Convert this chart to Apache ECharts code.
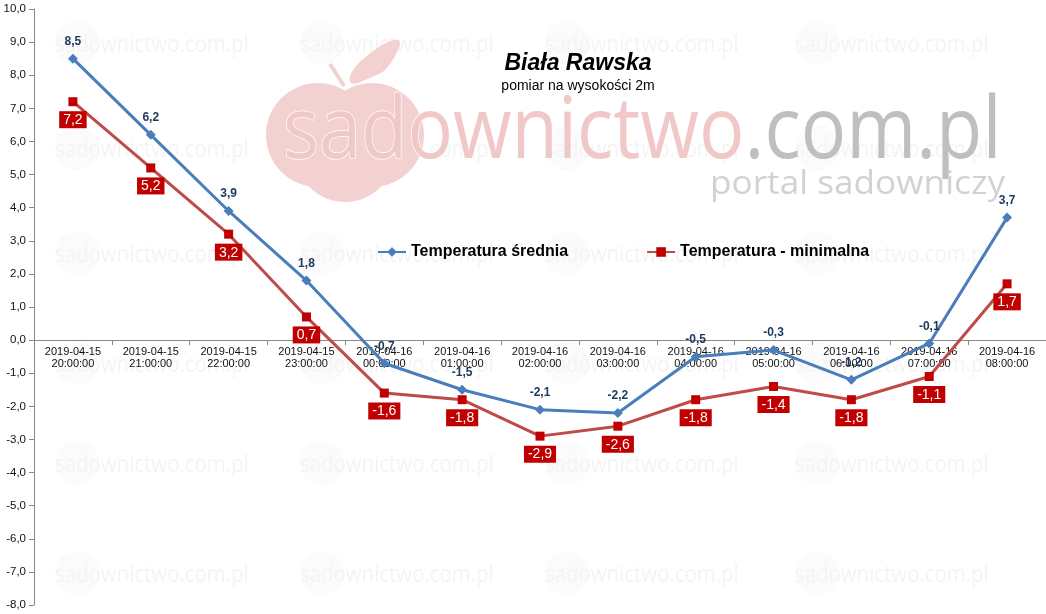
<!DOCTYPE html>
<html><head><meta charset="utf-8">
<script src="https://cdn.jsdelivr.net/npm/echarts@6/dist/echarts.min.js"></script>
<style>html,body{margin:0;padding:0;background:#fff}#c{width:1046px;height:614px}</style>
</head><body><div id="c"></div>
<script>
var categories = ['2019-04-15\n20:00:00','2019-04-15\n21:00:00','2019-04-15\n22:00:00','2019-04-15\n23:00:00','2019-04-16\n00:00:00','2019-04-16\n01:00:00','2019-04-16\n02:00:00','2019-04-16\n03:00:00','2019-04-16\n04:00:00','2019-04-16\n05:00:00','2019-04-16\n06:00:00','2019-04-16\n07:00:00','2019-04-16\n08:00:00'];
var avgTemp = [8.5, 6.2, 3.9, 1.8, -0.7, -1.5, -2.1, -2.2, -0.5, -0.3, -1.2, -0.1, 3.7];
var minTemp = [7.2, 5.2, 3.2, 0.7, -1.6, -1.8, -2.9, -2.6, -1.8, -1.4, -1.8, -1.1, 1.7];
var seriesNames = ['Temperatura średnia', 'Temperatura - minimalna'];
var titleText = 'Biała Rawska';
var subtitleText = 'pomiar na wysokości 2m';
var yMin = -8, yMax = 10;

function fmt(v){ return v.toFixed(1).replace('.', ','); }

var W = 1046, H = 614, gTop = 9, gBottom = 9;
var plotH = H - gTop - gBottom;
var zeroOffset = -plotH * (0 - yMin) / (yMax - yMin);

var graphics = [];
var tileXs = [55, 300, 545, 795];
var tileYs = [45, 150, 255, 365, 465, 575];
tileYs.forEach(function(y){ tileXs.forEach(function(x){
  graphics.push({type:'circle', z:-10, shape:{cx:x+22, cy:y-2, r:22}, style:{fill:'#fbfbfb'}, silent:true});
  graphics.push({type:'text', z:-9, x:x, y:y, scaleX:0.85, style:{text:'sadownictwo.com.pl', font:'24px "Open Sans"', fill:'#f4f4f4', textVerticalAlign:'middle'}, silent:true});
});});
// big apple
var appleCol = '#f4d1d1';
graphics.push({type:'circle', z:-5, silent:true, shape:{cx:318, cy:135, r:52}, style:{fill:appleCol}});
graphics.push({type:'circle', z:-5, silent:true, shape:{cx:372, cy:135, r:52}, style:{fill:appleCol}});
graphics.push({type:'circle', z:-5, silent:true, shape:{cx:345, cy:152, r:50}, style:{fill:appleCol}});
graphics.push({type:'polygon', z:-5, silent:true, shape:{smooth:0.5, points:[[350,82],[362,60],[398,40],[390,64],[370,78]]}, style:{fill:appleCol}});
graphics.push({type:'line', z:-5, silent:true, shape:{x1:330, y1:64, x2:344, y2:86}, style:{stroke:appleCol, lineWidth:4}});
graphics.push({type:'text', z:-4, silent:true, x:283, y:176, scaleX:0.88, style:{text:'{a|sadownictwo}{b|.com.pl}', textVerticalAlign:'bottom', font:'86px "Open Sans"', rich:{a:{fill:'#f0c8c8', font:'86px "Open Sans"', stroke:'#ffffff', lineWidth:1.5}, b:{fill:'#bfbfbf', font:'86px "Open Sans"'}}}});
graphics.push({type:'text', z:-4, silent:true, x:710, y:201, scaleX:1.1, style:{text:'portal sadowniczy', font:'32px "Open Sans"', fill:'#d2d2d2', textVerticalAlign:'bottom'}});
// titles
graphics.push({type:'text', z:10, x:578, y:64, style:{text:titleText, font:'italic bold 23px Arial', fill:'#000', textAlign:'center', textVerticalAlign:'middle'}});
graphics.push({type:'text', z:10, x:578, y:86, style:{text:subtitleText, font:'14px Arial', fill:'#000', textAlign:'center', textVerticalAlign:'middle'}});

var chart = echarts.init(document.getElementById('c'));
chart.setOption({
  animation:false,
  backgroundColor:'#fff',
  graphic: graphics,
  grid:{left:34, right:0, top:gTop, bottom:gBottom, containLabel:false, outerBoundsMode:'none'},
  legend:{left:377, top:244, padding:0, itemGap:78, itemWidth:28, itemHeight:12,
    textStyle:{fontFamily:'Arial', fontWeight:'bold', fontSize:16, color:'#000'},
    data:seriesNames},
  xAxis:{type:'category', data:categories, boundaryGap:true, position:'bottom', offset:zeroOffset,
    axisLine:{onZero:false, lineStyle:{color:'#888'}},
    axisTick:{show:true, length:5, lineStyle:{color:'#888'}},
    axisLabel:{interval:0, fontFamily:'Arial', fontSize:11, lineHeight:12, color:'#111', margin:6},
    splitLine:{show:false}},
  yAxis:{type:'value', min:yMin, max:yMax, interval:1,
    axisLine:{show:true, lineStyle:{color:'#888'}},
    axisTick:{show:true, length:5, lineStyle:{color:'#888'}},
    axisLabel:{formatter:function(v){return fmt(v);}, fontFamily:'Arial', fontSize:11.5, color:'#111', margin:8},
    splitLine:{show:false}},
  series:[
    {name:seriesNames[0], type:'line', data:avgTemp, symbol:'diamond', symbolSize:10,
      lineStyle:{color:'#4a7ebb', width:3}, itemStyle:{color:'#4a7ebb'}, color:'#4a7ebb', z:4,
      label:{show:true, position:'top', distance:6, formatter:function(p){return fmt(p.value);}, fontFamily:'Arial', fontWeight:'bold', fontSize:12, color:'#1f3a60'}},
    {name:seriesNames[1], type:'line', data:minTemp, symbol:'rect', symbolSize:9,
      lineStyle:{color:'#be4b48', width:3}, itemStyle:{color:'#c00000'}, color:'#c00000', z:3,
      label:{show:true, position:'bottom', distance:5, formatter:function(p){return fmt(p.value);}, fontFamily:'Arial', fontSize:14, color:'#fff', backgroundColor:'#c00000', padding:[2,4,1,4]}}
  ]
});
</script></body></html>
